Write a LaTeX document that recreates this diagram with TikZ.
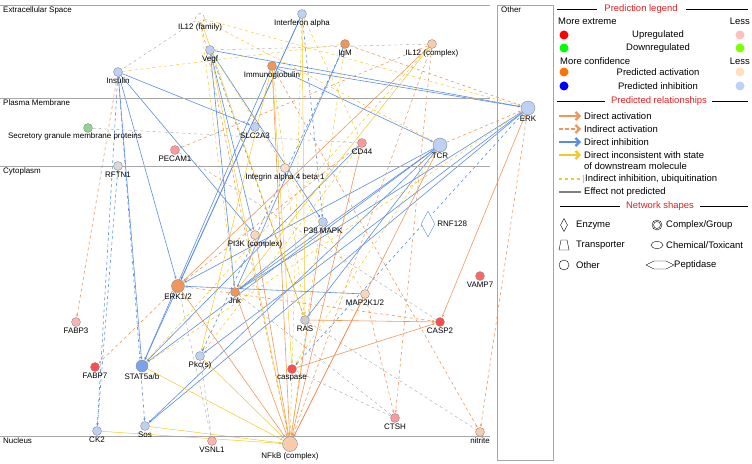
\documentclass[tikz,border=0pt]{standalone}
\usepackage{tikz}
\usepackage{fontspec}
\setmainfont{Liberation Sans}
\usetikzlibrary{arrows.meta, positioning, shapes.geometric}
\definecolor{actc}{RGB}{240,150,90}
\definecolor{inhc}{RGB}{90,140,230}
\definecolor{incc}{RGB}{245,200,40}
\definecolor{legred}{RGB}{230,30,30}
\pgfdeclarelayer{edges}
\pgfsetlayers{edges,main}
\begin{document}
\begin{tikzpicture}[x=1bp, y=-1bp, font=\fontsize{8}{9}\selectfont]
\tikzset{
  gene/.style={circle, draw=black!45, fill=#1, minimum size=9pt, inner sep=0pt, line width=0.4pt},
  gene/.default=actc!50,
  act/.style={actc, -{Latex[length=3pt]}, line width=0.6pt},
  actd/.style={actc, dashed, -{Latex[length=3pt]}, line width=0.6pt},
  inh/.style={inhc, -{Latex[length=3pt]}, line width=0.6pt},
  inhd/.style={inhc, dashed, -{Latex[length=3pt]}, line width=0.6pt},
  inc/.style={incc, -{Latex[length=3pt]}, line width=0.5pt},
  incd/.style={incc, dashed, line width=0.5pt},
  np/.style={gray!70, dashed, line width=0.4pt},
  leg/.style={anchor=west, inner sep=1pt, font=\fontsize{9.5}{10}\selectfont},
  legarrow/.style={#1, line width=2.2pt, -{Straight Barb[length=4pt, width=8pt]}}
}
\useasboundingbox (0,0) rectangle (752,464);
% compartments
\foreach \y/\t in {5/Extracellular Space, 98/Plasma Membrane, 166/Cytoplasm, 436/Nucleus}
  {\draw[gray!70] (0,\y) -- (490,\y); \node[anchor=north west, inner sep=1pt] at (2,\y+1) {\t};}
\draw[gray!70] (497,5) rectangle (553,460);
\node[anchor=north west, inner sep=1pt] at (500,6) {Other};
% molecules
\node[gene=white, dashed] (il12f) at (200,18) {};
\node[gene=inhc!40] (ifna) at (302,14) {};
\node[gene=inhc!40] (vegf) at (210,50) {};
\node[gene=actc] (igm) at (345,44) {};
\node[gene] (il12c) at (432,44) {};
\node[gene=actc] (ig) at (272,66) {};
\node[gene=inhc!40] (ins) at (118,72) {};
\node[gene=inhc!40, minimum size=14pt] (erk) at (528,108) {};
\node[gene=green!40!gray!60] (sgmp) at (88,128) {};
\node[gene=inhc!40] (slc) at (255,127) {};
\node[gene=red!40] (pecam) at (175,150) {};
\node[gene=red!40] (cd44) at (362,143) {};
\node[gene=inhc!40, minimum size=14pt] (tcr) at (440,145) {};
\node[gene=gray!30] (rftn) at (118,166) {};
\node[gene=actc!30] (itg) at (285,168) {};
\node[gene=inhc!40] (p38) at (323,222) {};
\node[diamond, draw=inhc, fill=white, minimum width=14pt, minimum height=26pt, inner sep=0pt] (rnf) at (428,224) {};
\node[gene=red!60] (vamp) at (480,276) {};
\node[gene=actc!40] (pi3k) at (255,235) {};
\node[gene=actc, minimum size=13pt] (erk12) at (178,286) {};
\node[gene=actc] (jnk) at (235,292) {};
\node[gene=actc!40] (map2k) at (365,294) {};
\node[gene=red!30] (fabp3) at (76,322) {};
\node[gene=gray!40] (ras) at (305,320) {};
\node[gene=red!70] (casp2) at (440,322) {};
\node[gene=red!70] (fabp7) at (95,367) {};
\node[gene=inhc!80, minimum size=12pt] (stat) at (142,366) {};
\node[gene=inhc!40] (pkc) at (200,356) {};
\node[gene=red!70] (casp) at (292,369) {};
\node[gene=inhc!40] (sos) at (145,426) {};
\node[gene=inhc!40] (ck2) at (97,431) {};
\node[gene=red!30] (vsnl) at (212,441) {};
\node[gene=red!40] (ctsh) at (395,418) {};
\node[gene=actc!50] (nitr) at (480,432) {};
\node[gene=actc!50, minimum size=15pt] (nfkb) at (290,444) {};
% labels
\foreach \n/\t in {il12f/IL12 (family), ifna/Interferon alpha, vegf/Vegf, igm/IgM, il12c/IL12 (complex),
  ig/Immunoglobulin, ins/Insulin, erk/ERK, slc/SLC2A3, pecam/PECAM1, cd44/CD44, tcr/TCR, rftn/RFTN1,
  itg/Integrin alpha 4 beta 1, p38/P38 MAPK, vamp/VAMP7, pi3k/PI3K (complex), erk12/{ERK1/2}, jnk/Jnk,
  map2k/{MAP2K1/2}, fabp3/FABP3, ras/RAS, casp2/CASP2, fabp7/FABP7, stat/{STAT5a/b}, pkc/Pkc(s), casp/caspase,
  sos/Sos, ck2/CK2, vsnl/VSNL1, ctsh/CTSH, nitr/nitrite, nfkb/NFkB (complex)}
  \node[inner sep=1pt, below=0pt of \n] {\t};
\node[inner sep=1pt] at (75,136) {Secretory granule membrane proteins};
\node[inner sep=1pt, right=1pt of rnf] {RNF128};
% relationships
\begin{pgfonlayer}{edges}
\foreach \a/\b in {ins/slc, ins/stat, ins/erk12, ins/pi3k, vegf/erk, vegf/p38, vegf/pi3k, ig/erk, ig/tcr, ig/stat,
  ifna/stat, ifna/erk12, tcr/erk12, tcr/jnk, tcr/stat, tcr/ras, cd44/stat, erk/pkc, erk/jnk, erk/sos, tcr/sos,
  p38/jnk, map2k/erk12, igm/jnk, vegf/jnk}
  \draw[inh] (\a) -- (\b);
\foreach \a/\b in {ins/sos, ins/ck2, rftn/ck2, vegf/ras, ifna/p38, erk/casp, igm/pkc}
  \draw[inhd] (\a) -- (\b);
\foreach \a/\b in {ig/nfkb, erk12/nfkb, jnk/nfkb, cd44/nfkb, map2k/nfkb, il12c/erk12, ras/casp2, casp/casp2,
  tcr/nfkb, pi3k/nfkb, p38/nfkb, erk/casp2}
  \draw[act] (\a) -- (\b);
\foreach \a/\b in {il12c/nfkb, ins/fabp3, il12f/nfkb, ig/nitr, erk/nitr, il12c/ctsh, map2k/ctsh,
  erk12/fabp7, tcr/erk, igm/erk, il12c/pecam, cd44/erk12, erk12/casp2}
  \draw[actd] (\a) -- (\b);
\foreach \a/\b in {ig/pkc, pkc/nfkb, ck2/nfkb, sos/nfkb, stat/nfkb, ifna/ras, il12f/ras, il12c/jnk, vegf/nfkb,
  ig/casp}
  \draw[inc] (\a) -- (\b);
\foreach \a/\b in {il12f/erk, il12f/tcr, ifna/cd44, ifna/nfkb, ig/ras, igm/nfkb, il12c/stat, vegf/map2k,
  cd44/pkc, erk/stat, tcr/casp, ins/igm, il12f/jnk}
  \draw[incd] (\a) -- (\b);
\foreach \a/\b in {il12f/ins, pecam/casp2, sgmp/cd44, ras/nitr, casp/ctsh, jnk/ctsh, vegf/il12c, erk12/vsnl, pkc/vsnl}
  \draw[np] (\a) -- (\b);
\end{pgfonlayer}
% legend
\def\lx{557}
\begin{scope}[font=\fontsize{9.5}{10}\selectfont]
\draw (\lx,9) -- (597,9); \draw (686,9) -- (748,9);
\node[text=legred] at (641,9) {Prediction legend};
\node[leg] at (\lx,21) {More extreme}; \node[leg, anchor=east] at (751,21) {Less};
\foreach \y/\c/\d/\t in {35/red/pink/Upregulated, 48/green/green!50!yellow/Downregulated,
  72/orange!90!red/orange!25/Predicted activation, 86/blue/inhc!40/Predicted inhibition}
  {\fill[\c] (\lx+7,\y) circle (4.5bp); \fill[\d] (740,\y) circle (4.5bp); \node at (658,\y) {\t};}
\node[leg] at (\lx+2,61) {More confidence}; \node[leg, anchor=east] at (751,61) {Less};
\draw (\lx,101) -- (605,101); \draw (712,101) -- (748,101);
\node[text=legred] at (659,101) {Predicted relationships};
\draw[legarrow=actc] (\lx+2,116) -- (\lx+24,116); \node[leg] at (\lx+26,116) {Direct activation};
\draw[legarrow=actc, dash pattern=on 4pt off 2pt] (\lx+2,129) -- (\lx+24,129); \node[leg] at (\lx+26,129) {Indirect activation};
\draw[legarrow=inhc] (\lx+2,142) -- (\lx+24,142); \node[leg] at (\lx+26,142) {Direct inhibition};
\draw[legarrow=incc] (\lx+2,155) -- (\lx+24,155); \node[leg] at (\lx+26,155) {Direct inconsistent with state};
\node[leg] at (\lx+26,166) {of downstream molecule};
\draw[incc, dashed, line width=1.2pt] (\lx+2,179) -- (\lx+24,179); \draw[incc] (\lx+26,175) -- (\lx+26,183);
\node[leg] at (\lx+27,179) {Indirect inhibition, ubiquitination};
\draw[gray, line width=1.2pt] (\lx+2,192) -- (\lx+24,192); \node[leg] at (\lx+26,192) {Effect not predicted};
\draw (\lx+3,206) -- (620,206); \draw (700,206) -- (748,206);
\node[text=legred] at (660,206) {Network shapes};
\node[diamond, draw, minimum width=7bp, minimum height=13bp, inner sep=0pt] at (\lx+7,225) {}; \node[leg] at (\lx+18,225) {Enzyme};
\draw (\lx+2,250) -- (\lx+4,240) -- (\lx+10,240) -- (\lx+12,250) -- cycle; \node[leg] at (\lx+18,245) {Transporter};
\draw (\lx+7,265) circle (5bp); \node[leg] at (\lx+18,265) {Other};
\draw (657,225) circle (5bp); \draw (657,225) circle (3.5bp); \node[leg] at (665,225) {Complex/Group};
\draw (657,245) ellipse (6bp and 3.5bp); \node[leg] at (665,245) {Chemical/Toxicant};
\draw (646,265) -- (654,261) -- (666,261) -- (674,265) -- (666,269) -- (654,269) -- cycle; \node[leg] at (673,265) {Peptidase};
\end{scope}
\end{tikzpicture}
\end{document}
